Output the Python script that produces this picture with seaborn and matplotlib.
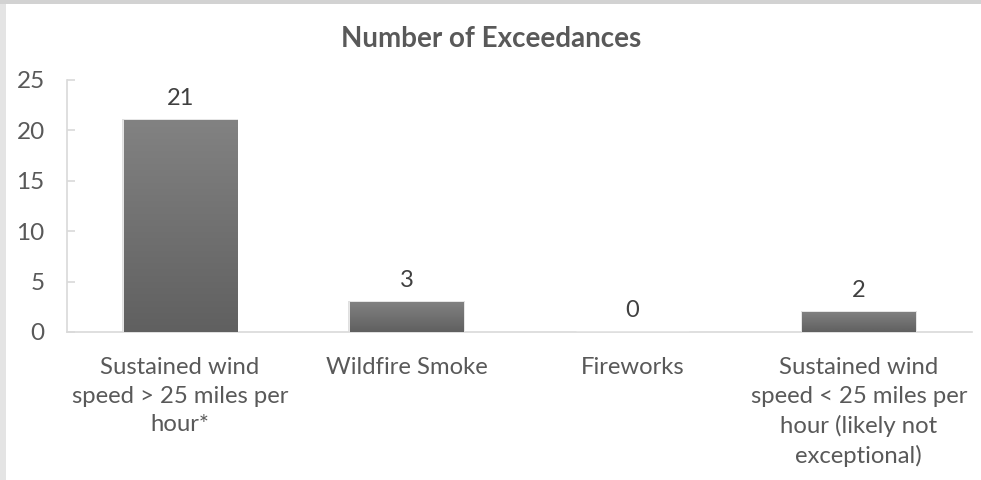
import matplotlib
matplotlib.use("Agg")
import matplotlib.pyplot as plt
import matplotlib.patches as mpatches
import numpy as np
import pandas as pd
import seaborn as sns

# chart data
categories = [
    "Sustained wind\nspeed > 25 miles per\nhour*",
    "Wildfire Smoke",
    "Fireworks",
    "Sustained wind\nspeed < 25 miles per\nhour (likely not\nexceptional)",
]
counts = [21, 3, 0, 2]
y_ticks = [0, 5, 10, 15, 20, 25]

df = pd.DataFrame({"category": categories, "count": counts})

sns.set_theme(style="white")
plt.rcParams["font.family"] = ["Lato", "DejaVu Sans"]

text_color = "#595959"
axis_color = "#d9d9d9"

fig = plt.figure(figsize=(9.81, 4.8), dpi=100)
fig.patch.set_facecolor("#e4e4e4")
# white chart area inside the grey frame
fig.patches.append(
    mpatches.Rectangle((6 / 981, 0), 1, 1 - 4 / 480, transform=fig.transFigure,
                       facecolor="white", edgecolor="none", zorder=-10)
)
fig.patches.append(
    mpatches.Rectangle((0, 1 - 4 / 480), 1, 4 / 480, transform=fig.transFigure,
                       facecolor="#d2d2d2", edgecolor="none", zorder=-10)
)

ax = fig.add_axes([67 / 981, 1 - 332 / 480, (972 - 67) / 981, (332 - 80) / 480])
ax.set_facecolor("none")

sns.barplot(data=df, x="category", y="count", color="#6e6e6e", width=0.5,
            saturation=1, ax=ax, zorder=3)

# vertical gradient on the bars
grad = np.linspace(0, 1, 256).reshape(-1, 1)
cmap = matplotlib.colors.LinearSegmentedColormap.from_list("g", ["#606060", "#828282"])
for p in ax.patches:
    x0, w, h = p.get_x(), p.get_width(), p.get_height()
    if h <= 0:
        continue
    # soft shadow
    sh = mpatches.Rectangle((x0 - 0.008, 0), w + 0.016, h + 0.12,
                            facecolor="#000000", alpha=0.12, edgecolor="none", zorder=2)
    ax.add_patch(sh)
    im = ax.imshow(grad, extent=[x0, x0 + w, 0, h], origin="lower", cmap=cmap,
                   aspect="auto", zorder=4)
    im.set_clip_path(p)

ax.set_xlim(-0.5, len(categories) - 0.5)
ax.set_ylim(0, 25)
ax.set_yticks(y_ticks)

for c in ax.containers:
    ax.bar_label(c, fontsize=17, color="#404040", padding=8)

ax.set_xlabel("")
ax.set_ylabel("")
# title is centred on the whole chart area, not the plot area
ax.set_title("Number of Exceedances", fontsize=20, fontweight="bold",
             color=text_color, pad=24, x=(491 - 67) / 905)

for s in ["top", "right"]:
    ax.spines[s].set_visible(False)
for s in ["left", "bottom"]:
    ax.spines[s].set_color(axis_color)
    ax.spines[s].set_linewidth(1.2)

ax.tick_params(axis="y", direction="in", length=6, width=1.2, color=axis_color,
               labelsize=17.5, labelcolor=text_color, pad=16, left=True)
ax.tick_params(axis="x", length=0, labelsize=17.2, labelcolor=text_color, pad=18)
for lbl in ax.get_xticklabels():
    lbl.set_linespacing(1.45)
    lbl.set_verticalalignment("top")

fig.savefig("out.png", dpi=100, facecolor=fig.get_facecolor())
